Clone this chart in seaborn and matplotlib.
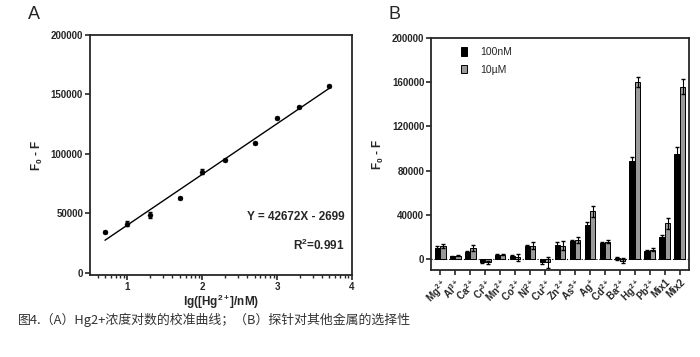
import numpy as np
import pandas as pd
import matplotlib
matplotlib.use("Agg")
import matplotlib.pyplot as plt
import seaborn as sns

# Panel A : calibration data
lg_conc = [0.7, 1.0, 1.3, 1.7, 2.0, 2.3, 2.7, 3.0, 3.3, 3.7]
signal = [34000, 41000, 48500, 63000, 85000, 95000, 109000, 130000, 139000, 157000]
signal_err = [800, 2000, 2500, 800, 2000, 800, 1000, 800, 800, 800]
slope, intercept, r2 = 42672, -2699, 0.991

# Panel B : selectivity data
ions = ["Mg$^{2+}$", "Al$^{3+}$", "Ca$^{2+}$", "Cr$^{3+}$", "Mn$^{2+}$", "Co$^{2+}$",
        "Ni$^{2+}$", "Cu$^{2+}$", "Zn$^{2+}$", "As$^{5+}$", "Ag$^{+}$", "Cd$^{2+}$",
        "Ba$^{2+}$", "Hg$^{2+}$", "Pb$^{2+}$", "Mix1", "Mix2"]
val_100nM = [10000, 2500, 6500, -2500, 3500, 2500, 12000, -2500, 13000, 16000,
             31000, 14000, 500, 89000, 7500, 20000, 95000]
err_100nM = [1500, 500, 1000, 1500, 700, 1000, 800, 2000, 2500, 1000,
             2500, 1000, 1500, 3000, 800, 1500, 6000]
val_10uM = [11500, 3000, 10000, -3000, 4000, 1500, 12000, -3000, 12000, 17000,
            43000, 15500, -1500, 160000, 8500, 32500, 156000]
err_10uM = [2000, 700, 3000, 1500, 700, 3000, 3000, 5000, 4000, 2500,
            5000, 1500, 2000, 4500, 1500, 5000, 7000]
conc_labels = ["100nM", "10µM"]

sns.set_style("ticks")
plt.rcParams['font.family'] = ['Liberation Sans', 'DejaVu Sans']
plt.rcParams['mathtext.fontset'] = 'custom'
plt.rcParams['mathtext.rm'] = 'Liberation Sans:bold'
plt.rcParams['mathtext.it'] = 'Liberation Sans:bold'
plt.rcParams['mathtext.bf'] = 'Liberation Sans:bold'

fig = plt.figure(figsize=(7, 3.57), dpi=100)
axA = fig.add_axes([0.1286, 0.23, 0.374, 0.672])
axB = fig.add_axes([0.616, 0.2437, 0.368, 0.65])

# ---- A ----
dfA = pd.DataFrame({"x": lg_conc, "y": signal})
xs = np.array([lg_conc[0], lg_conc[-1]])
axA.plot(xs, slope * xs + intercept, color="black", lw=1)
axA.errorbar(lg_conc, signal, yerr=signal_err, fmt="none", ecolor="black", elinewidth=0.8, capsize=1.5)
sns.scatterplot(data=dfA, x="x", y="y", color="black", s=13, ax=axA, zorder=3, edgecolor="black")
axA.set_xlim(0.5, 4)
axA.set_ylim(-2000, 200000)
axA.set_xticks([1, 2, 3, 4])
axA.set_xticks([n + np.log10(k) for n in range(0, 4) for k in range(2, 10)
                if 0.5 < n + np.log10(k) < 4], minor=True)
axA.set_yticks([0, 50000, 100000, 150000, 200000])
axA.set_xlabel("lg([Hg$^{2+}$]/nM)", fontsize=8.5, fontweight="bold", labelpad=1)
axA.set_ylabel("F$_0$ - F", fontsize=8.5, fontweight="bold")
axA.text(3.9, 47000, "Y = 42672X - 2699", ha="right", va="center", fontsize=8.5, fontweight="bold")
axA.text(3.9, 23000, "R$^2$=%.3f" % r2, ha="right", va="center", fontsize=8.5, fontweight="bold")

# ---- B ----
dfB = pd.DataFrame({
    "ion": ions * 2,
    "value": val_100nM + val_10uM,
    "err": err_100nM + err_10uM,
    "conc": [conc_labels[0]] * len(ions) + [conc_labels[1]] * len(ions),
})
sns.barplot(data=dfB, x="ion", y="value", hue="conc", palette=["black", "#9a9a9a"],
            errorbar=None, width=0.72, edgecolor="black", linewidth=0.7, ax=axB)
bars = [p for p in axB.patches if p.get_width() > 0][:2 * len(ions)]
centers = [p.get_x() + p.get_width() / 2 for p in bars]
axB.errorbar(centers, dfB["value"], yerr=dfB["err"], fmt="none", ecolor="black",
             elinewidth=0.8, capsize=1.5)
axB.axhline(0, color="black", ls=":", lw=0.8, zorder=0)
axB.set_ylim(-10000, 200000)
axB.set_yticks([0, 40000, 80000, 120000, 160000, 200000])
axB.set_xlim(-0.6, len(ions) - 0.4)
axB.set_xlabel("")
axB.set_ylabel("F$_0$ - F", fontsize=8.5, fontweight="bold")
leg = axB.legend(loc="upper left", bbox_to_anchor=(0.08, 1.0), frameon=False, fontsize=7.5,
                 handlelength=0.6, handleheight=0.9, handletextpad=1.2, labelspacing=0.7)

for ax in (axA, axB):
    for s in ax.spines.values():
        s.set_linewidth(1.3)
    ax.tick_params(axis="both", which="major", labelsize=7, width=1.2, length=3.5, pad=1.5)
    ax.tick_params(axis="both", which="minor", width=1, length=2.5)
    for lab in ax.get_xticklabels() + ax.get_yticklabels():
        lab.set_fontweight("bold")
plt.setp(axB.get_xticklabels(), rotation=45, ha="right", rotation_mode="anchor")

fig.text(0.04, 0.96, "A", fontsize=13, va="center")
fig.text(0.555, 0.96, "B", fontsize=13, va="center")
fig.text(0.026, 0.105, "图4.（A）Hg2+浓度对数的校准曲线；（B）探针对其他金属的选择性",
         fontsize=9.3, color="#333333", va="center", family=['Noto Sans CJK SC', 'DejaVu Sans'])

fig.savefig("out.png", dpi=100)
